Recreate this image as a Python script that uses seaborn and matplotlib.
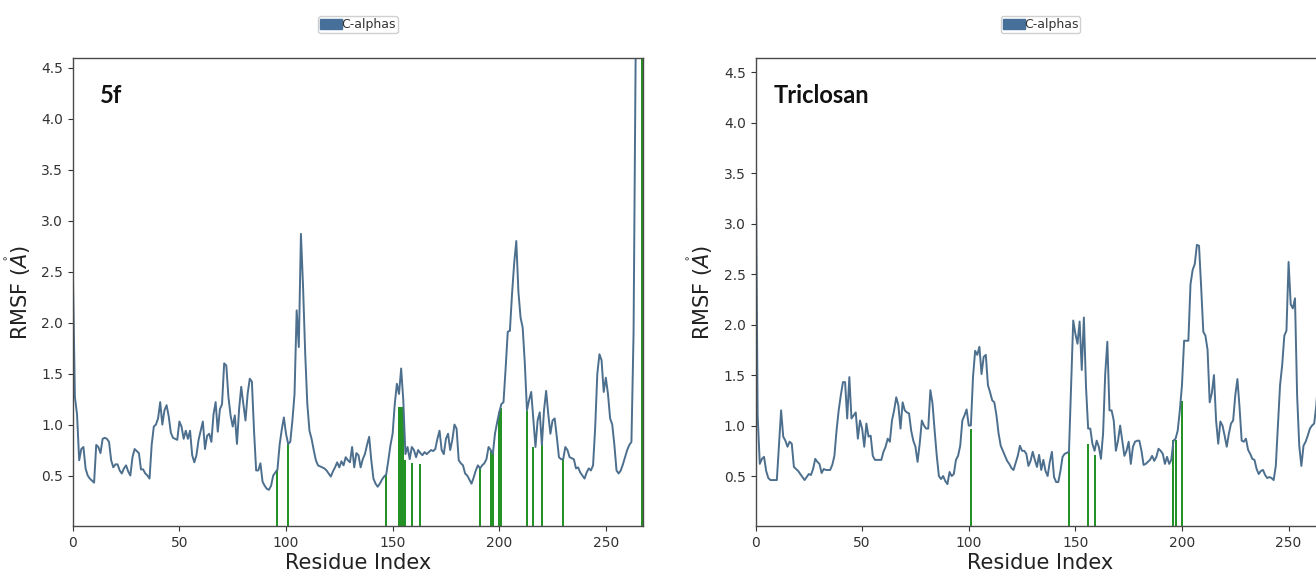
import numpy as np
import pandas as pd
import matplotlib
matplotlib.use("Agg")
import matplotlib.pyplot as plt
import seaborn as sns
from matplotlib.patches import Patch

# RMSF per residue (C-alphas)
rmsf_5f = [
    2.56, 1.27, 1.10, 0.65, 0.76, 0.78, 0.57, 0.50, 0.47, 0.45,
    0.43, 0.80, 0.78, 0.72, 0.86, 0.87, 0.86, 0.83, 0.65, 0.58,
    0.61, 0.61, 0.55, 0.52, 0.57, 0.60, 0.54, 0.50, 0.68, 0.76,
    0.74, 0.72, 0.56, 0.56, 0.52, 0.50, 0.47, 0.80, 0.98, 1.00,
    1.06, 1.22, 1.00, 1.14, 1.19, 1.08, 0.92, 0.87, 0.86, 0.85,
    1.03, 0.98, 0.86, 0.94, 0.86, 0.94, 0.70, 0.63, 0.70, 0.85,
    0.94, 1.03, 0.76, 0.89, 0.91, 0.83, 1.10, 1.22, 0.93, 1.15,
    1.20, 1.60, 1.58, 1.27, 1.09, 0.98, 1.09, 0.81, 1.15, 1.37,
    1.20, 1.04, 1.30, 1.45, 1.42, 0.94, 0.55, 0.55, 0.62, 0.44,
    0.40, 0.37, 0.36, 0.40, 0.50, 0.53, 0.56, 0.80, 0.95, 1.07,
    0.91, 0.81, 0.83, 1.04, 1.30, 2.12, 1.76, 2.87, 2.35, 1.70,
    1.20, 0.94, 0.86, 0.75, 0.65, 0.60, 0.59, 0.58, 0.57, 0.55,
    0.52, 0.49, 0.54, 0.58, 0.63, 0.58, 0.64, 0.60, 0.68, 0.65,
    0.63, 0.78, 0.58, 0.72, 0.70, 0.58, 0.66, 0.71, 0.80, 0.88,
    0.65, 0.47, 0.42, 0.39, 0.42, 0.46, 0.49, 0.51, 0.65, 0.80,
    0.91, 1.20, 1.40, 1.30, 1.55, 1.24, 0.71, 0.78, 0.66, 0.78,
    0.75, 0.68, 0.75, 0.72, 0.70, 0.73, 0.71, 0.73, 0.75, 0.74,
    0.76, 0.86, 0.94, 0.75, 0.71, 0.86, 0.91, 0.75, 0.85, 1.00,
    0.96, 0.65, 0.62, 0.60, 0.52, 0.50, 0.46, 0.42, 0.48, 0.55,
    0.60, 0.57, 0.60, 0.62, 0.66, 0.78, 0.75, 0.71, 0.91, 1.02,
    1.12, 1.20, 1.22, 1.55, 1.91, 1.92, 2.28, 2.58, 2.80, 2.30,
    2.05, 1.95, 1.60, 1.14, 1.24, 1.32, 1.05, 0.78, 1.04, 1.12,
    0.80, 1.14, 1.33, 1.10, 0.91, 1.04, 1.06, 0.88, 0.68, 0.66,
    0.66, 0.78, 0.75, 0.68, 0.67, 0.66, 0.57, 0.58, 0.53, 0.50,
    0.47, 0.53, 0.57, 0.55, 0.60, 0.97, 1.50, 1.69, 1.63, 1.32,
    1.46, 1.30, 1.06, 1.00, 0.80, 0.55, 0.52, 0.55, 0.61, 0.68,
    0.75, 0.80, 0.83, 1.90, 4.70, 5.30, 5.60, 5.80,
]

rmsf_triclosan = [
    4.00, 1.10, 0.62, 0.67, 0.69, 0.55, 0.48, 0.46, 0.46, 0.46,
    0.46, 0.80, 1.15, 0.89, 0.85, 0.79, 0.84, 0.82, 0.59, 0.57,
    0.55, 0.52, 0.49, 0.46, 0.49, 0.52, 0.51, 0.57, 0.67, 0.64,
    0.62, 0.53, 0.57, 0.56, 0.56, 0.56, 0.61, 0.70, 0.95, 1.15,
    1.30, 1.43, 1.43, 1.07, 1.48, 1.07, 1.10, 1.13, 0.87, 1.05,
    0.97, 0.79, 1.02, 0.89, 0.90, 0.70, 0.66, 0.66, 0.66, 0.66,
    0.74, 0.79, 0.87, 0.84, 1.05, 1.15, 1.28, 1.20, 0.97, 1.23,
    1.15, 1.13, 1.12, 0.95, 0.85, 0.79, 0.64, 0.82, 1.05, 1.00,
    0.97, 0.97, 1.35, 1.22, 0.95, 0.70, 0.50, 0.47, 0.50, 0.45,
    0.42, 0.54, 0.50, 0.52, 0.66, 0.70, 0.80, 1.05, 1.10, 1.16,
    1.00, 1.00, 1.48, 1.74, 1.70, 1.78, 1.51, 1.68, 1.70, 1.40,
    1.33, 1.25, 1.23, 1.10, 0.92, 0.80, 0.75, 0.70, 0.65, 0.62,
    0.58, 0.56, 0.63, 0.70, 0.80, 0.75, 0.75, 0.72, 0.60, 0.65,
    0.74, 0.66, 0.59, 0.71, 0.56, 0.66, 0.55, 0.50, 0.64, 0.74,
    0.49, 0.44, 0.44, 0.55, 0.69, 0.72, 0.73, 0.74, 1.38, 2.04,
    1.91, 1.81, 2.03, 1.55, 2.07, 1.38, 0.97, 0.97, 0.82, 0.75,
    0.85, 0.79, 0.67, 0.92, 1.51, 1.83, 1.15, 1.15, 1.05, 0.75,
    0.85, 1.00, 0.85, 0.70, 0.75, 0.84, 0.62, 0.79, 0.84, 0.85,
    0.85, 0.75, 0.61, 0.62, 0.64, 0.66, 0.70, 0.65, 0.69, 0.77,
    0.75, 0.72, 0.62, 0.69, 0.62, 0.66, 0.85, 0.87, 0.95, 1.15,
    1.40, 1.84, 1.84, 1.84, 2.40, 2.54, 2.60, 2.79, 2.78, 2.37,
    1.93, 1.89, 1.75, 1.23, 1.32, 1.50, 1.05, 0.82, 1.04, 1.00,
    0.90, 0.79, 0.92, 1.02, 1.05, 1.30, 1.46, 1.18, 0.85, 0.84,
    0.87, 0.76, 0.72, 0.67, 0.66, 0.57, 0.52, 0.55, 0.56, 0.51,
    0.48, 0.49, 0.48, 0.46, 0.60, 1.00, 1.40, 1.60, 1.89, 1.94,
    2.62, 2.20, 2.16, 2.26, 1.30, 0.80, 0.60, 0.80, 0.84, 0.90,
    0.97, 1.00, 1.02, 1.20, 1.50,
]

# ligand-contact residues (green bars) and how high each bar reaches
contacts_5f = [96, 101, 147, 153, 154, 155, 156, 159, 163, 191,
               196, 197, 200, 201, 213, 216, 220, 230, 267]
contact_top_5f = [0.55, 0.81, 0.51, 1.17, 1.17, 1.17, 0.65, 0.62, 0.61, 0.58,
                  0.75, 0.73, 1.12, 1.16, 1.13, 0.78, 0.81, 0.67, 6.0]

contacts_triclosan = [101, 147, 156, 159, 196, 197, 200]
contact_top_triclosan = [0.97, 0.74, 0.82, 0.71, 0.86, 0.86, 1.24]

panel_names = ["5f", "Triclosan"]
x_ticks = [0, 50, 100, 150, 200, 250]
y_ticks = [0.5, 1.0, 1.5, 2.0, 2.5, 3.0, 3.5, 4.0, 4.5]

line_color = "#4d6f8e"
patch_color = "#46709a"
green = "#1f8f1f"

sns.set_style("ticks")
plt.rcParams["font.family"] = ["DejaVu Sans"]

fig = plt.figure(figsize=(13.16, 5.72), dpi=100)
fig.patch.set_facecolor("white")

ax_l = fig.add_axes([0.0553, 0.0804, 0.4331, 0.8182])
ax_r = fig.add_axes([0.5741, 0.0804, 0.4331, 0.8182])

panels = [
    (ax_l, rmsf_5f, contacts_5f, contact_top_5f, (0.005, 4.595)),
    (ax_r, rmsf_triclosan, contacts_triclosan, contact_top_triclosan, (0.005, 4.64)),
]

for (ax, vals, cres, ctop, ylim), name in zip(panels, panel_names):
    df = pd.DataFrame({"residue": np.arange(len(vals)), "rmsf": vals})
    ax.vlines(cres, ylim[0], ctop, colors=green, linewidth=1.4, zorder=1)
    sns.lineplot(data=df, x="residue", y="rmsf", ax=ax, color=line_color,
                 linewidth=1.4, zorder=2)
    ax.set_xlim(0, 267.3)
    ax.set_ylim(*ylim)
    ax.set_xticks(x_ticks)
    ax.set_yticks(y_ticks)
    ax.tick_params(axis="both", labelsize=10, colors="#333333", length=3.5,
                   width=0.8, direction="out")
    for sp in ax.spines.values():
        sp.set_visible(True)
        sp.set_color("#4a4a4a")
        sp.set_linewidth(1.0)
    ax.set_xlabel("Residue Index", fontsize=15, color="#222222", labelpad=2)
    ax.set_ylabel(r"RMSF ($\mathring{A}$)", fontsize=15, color="#222222", labelpad=6)
    ax.text(0.048 if name == "5f" else 0.032, 0.92, name, transform=ax.transAxes,
            fontsize=17, fontweight="bold", family="Lato", va="center", ha="left",
            color="#111111")
    leg = ax.legend(handles=[Patch(facecolor=patch_color, edgecolor=patch_color,
                                   label="C-alphas")],
                    loc="lower center", bbox_to_anchor=(0.5, 1.053), borderaxespad=0,
                    fontsize=9, handlelength=1.8, handleheight=0.75,
                    handletextpad=-0.1, borderpad=0.15, fancybox=True,
                    framealpha=1.0, edgecolor="#d0d0d0")
    for t in leg.get_texts():
        t.set_color("#333333")

fig.savefig("out.png", dpi=100, facecolor="white")
